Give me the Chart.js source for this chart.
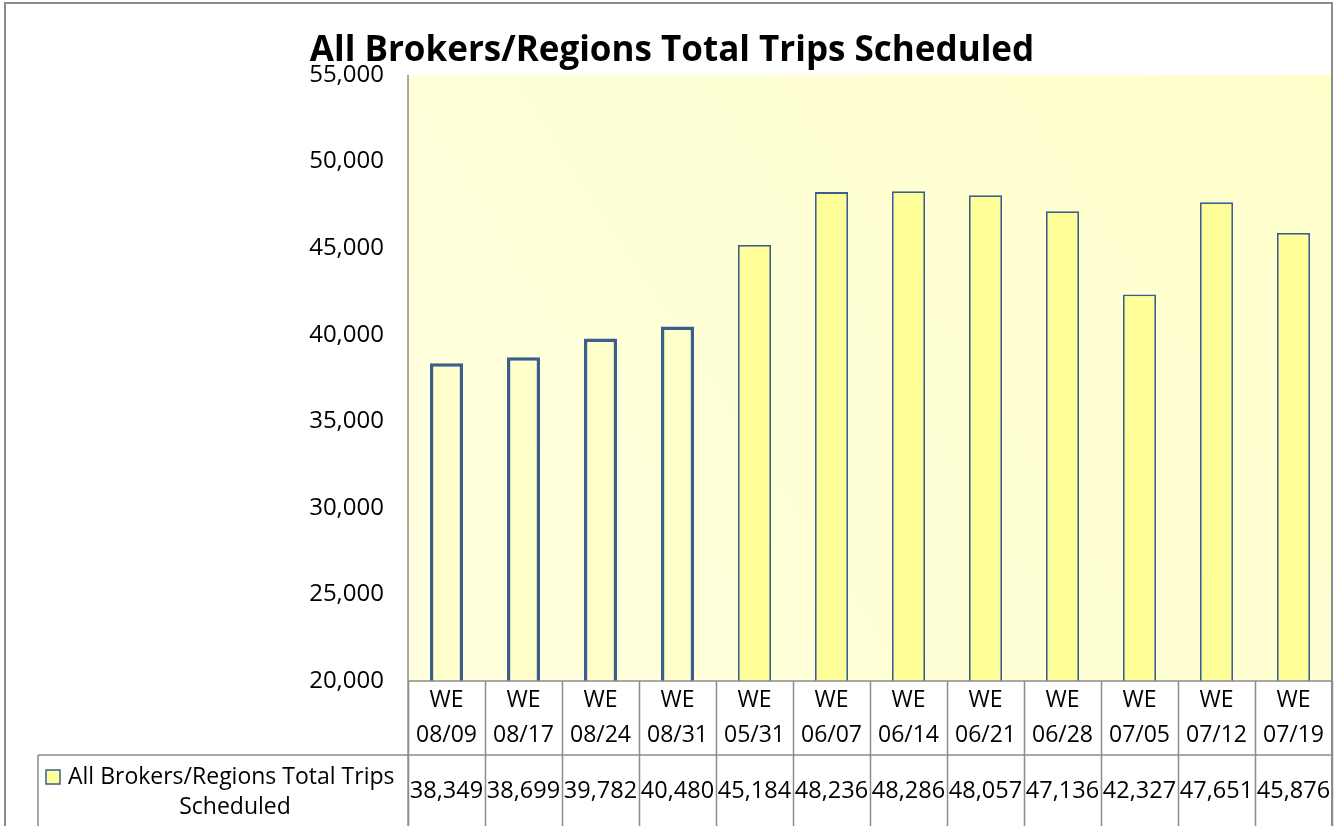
<!DOCTYPE html>
<html>
<head>
<meta charset="utf-8">
<script src="https://cdn.jsdelivr.net/npm/chart.js@4.4.1/dist/chart.umd.min.js"></script>
<style>
  html, body { margin: 0; padding: 0; background: #fff; }
  #wrap { width: 1344px; height: 826px; }
</style>
</head>
<body>
<div id="wrap"><canvas id="c" width="1344" height="826"></canvas></div>
<script>
const TITLE = 'All Brokers/Regions Total Trips Scheduled';
const SERIES = 'All Brokers/Regions Total Trips Scheduled';
const weeks = ['08/09', '08/17', '08/24', '08/31', '05/31', '06/07', '06/14', '06/21', '06/28', '07/05', '07/12', '07/19'];
const trips = [38349, 38699, 39782, 40480, 45184, 48236, 48286, 48057, 47136, 42327, 47651, 45876];
const yTicks = [20000, 25000, 30000, 35000, 40000, 45000, 50000, 55000];
const PRIOR = 4; // first weeks shown as outlined bars

const labels = weeks.map(w => ['WE', w]);
const FONT = '"Open Sans", "Noto Sans", sans-serif';
const GRID = '#8c8c8c';
const BLUE = '#3b5e8c';

const fmt = v => v.toLocaleString('en-US');

const tablePlugin = {
  id: 'table',
  beforeDraw(chart) {
    const { ctx, chartArea: a } = chart;
    ctx.save();
    const g = ctx.createLinearGradient(a.left, a.bottom, a.right, a.top);
    g.addColorStop(0, '#ffffde');
    g.addColorStop(1, '#ffffcc');
    ctx.fillStyle = g;
    ctx.fillRect(a.left, a.top, a.right - a.left, a.bottom - a.top);
    ctx.restore();
  },
  afterDraw(chart) {
    const { ctx, chartArea: a, scales: { x } } = chart;
    const H = chart.height;
    const step = (a.right - a.left) / weeks.length;
    const rowY = a.bottom + 74;
    ctx.save();
    // outer frame
    ctx.strokeStyle = GRID;
    ctx.lineWidth = 2;
    ctx.strokeRect(5, 3, a.right - 5, H + 10);
    // title
    ctx.fillStyle = '#000';
    ctx.font = 'bold 35px ' + FONT;
    ctx.textAlign = 'center';
    ctx.textBaseline = 'middle';
    ctx.fillText(TITLE, chart.width / 2, 51);
    // table grid
    ctx.lineWidth = 1.5;
    ctx.strokeStyle = GRID;
    ctx.beginPath();
    ctx.moveTo(a.left, a.top); ctx.lineTo(a.left, H);
    ctx.moveTo(a.left, a.bottom); ctx.lineTo(a.right, a.bottom);
    ctx.moveTo(38, rowY); ctx.lineTo(a.right, rowY);
    ctx.moveTo(38, rowY); ctx.lineTo(38, H);
    for (let i = 0; i <= weeks.length; i++) {
      const xx = Math.round(x.getPixelForValue(i) - step / 2) + 0.5;
      ctx.moveTo(xx, a.bottom); ctx.lineTo(xx, H);
    }
    ctx.stroke();
    // category labels and values
    ctx.fillStyle = '#000';
    ctx.textAlign = 'center';
    ctx.textBaseline = 'middle';
    weeks.forEach((w, i) => {
      const cx = x.getPixelForValue(i);
      ctx.font = '23px ' + FONT;
      ctx.fillText('WE', cx, a.bottom + 19);
      ctx.fillText(w, cx, a.bottom + 54);
      ctx.font = '23.5px ' + FONT;
      ctx.fillText(fmt(trips[i]), cx, rowY + 36);
    });
    // legend key + series name
    ctx.fillStyle = '#ffff99';
    ctx.fillRect(46, rowY + 15, 14, 14);
    ctx.strokeStyle = BLUE;
    ctx.lineWidth = 1.5;
    ctx.strokeRect(46, rowY + 15, 14, 14);
    ctx.fillStyle = '#000';
    ctx.font = '23px ' + FONT;
    ctx.textAlign = 'left';
    ctx.fillText('All Brokers/Regions Total Trips', 68, rowY + 22);
    ctx.textAlign = 'center';
    ctx.fillText('Scheduled', 235, rowY + 52);
    ctx.restore();
  }
};

new Chart(document.getElementById('c'), {
  type: 'bar',
  data: {
    labels,
    datasets: [{
      label: SERIES,
      data: trips,
      backgroundColor: trips.map((_, i) => i < PRIOR ? '#ffffcc' : '#ffff99'),
      borderColor: BLUE,
      borderWidth: trips.map((_, i) => i < PRIOR ? 3.5 : 1.8),
      borderSkipped: false,
      categoryPercentage: 1,
      barPercentage: 0.43
    }]
  },
  options: {
    responsive: false,
    animation: false,
    layout: { padding: { left: 6, right: 12, top: 75, bottom: 0 } },
    plugins: { legend: { display: false }, title: { display: false }, tooltip: { enabled: false } },
    scales: {
      x: {
        ticks: { display: false },
        grid: { display: false },
        border: { display: false },
        afterFit(s) { s.height = 145; }
      },
      y: {
        min: yTicks[0],
        max: yTicks[yTicks.length - 1],
        afterBuildTicks(s) { s.ticks = yTicks.map(v => ({ value: v })); },
        ticks: {
          color: '#000',
          font: { family: FONT, size: 24 },
          padding: 24,
          callback: v => fmt(v)
        },
        grid: { display: false, drawTicks: false },
        border: { display: false },
        afterFit(s) { s.width = 402; }
      }
    }
  },
  plugins: [tablePlugin]
});
</script>
</body>
</html>
